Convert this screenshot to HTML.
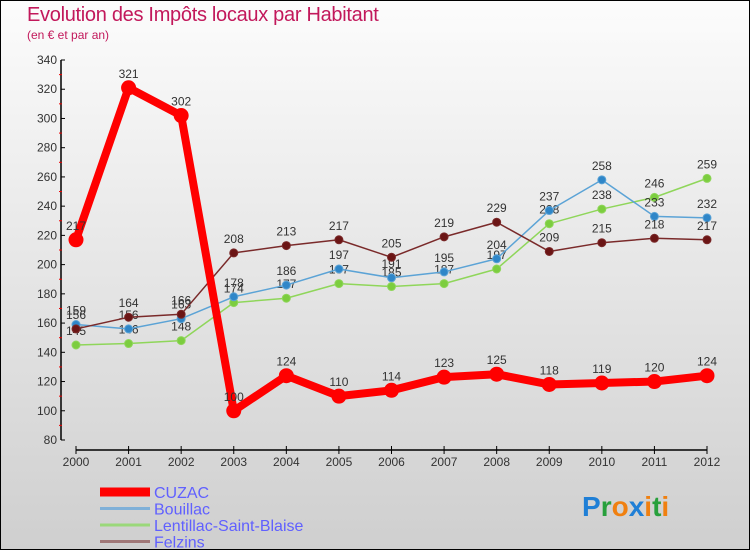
<!DOCTYPE html>
<html><head><meta charset="utf-8"><style>
html,body{margin:0;padding:0}
body{width:750px;height:550px;overflow:hidden;font-family:"Liberation Sans",sans-serif}
#wrap{position:absolute;left:0;top:0;width:748px;height:548px;border:1px solid #000;background:linear-gradient(#fcfcfc,#cfcfcf)}
.t{position:absolute;color:#c2185b}
</style></head><body>
<div id="wrap">
<div class="t" style="left:26px;top:3px;font-size:20px;letter-spacing:-0.3px">Evolution des Impôts locaux par Habitant</div>
<div class="t" style="left:26px;top:27px;font-size:12px">(en € et par an)</div>
<svg id="c" width="750" height="550" style="position:absolute;left:-1px;top:-1px"></svg>
</div>
<script>
const years=["2000","2001","2002","2003","2004","2005","2006","2007","2008","2009","2010","2011","2012"];
const cuzac=[217,321,302,100,124,110,114,123,125,118,119,120,124];
const bouillac=[159,156,163,178,186,197,191,195,204,237,258,233,232];
const lentillac=[145,146,148,174,177,187,185,187,197,228,238,246,259];
const felzins=[156,164,166,208,213,217,205,219,229,209,215,218,217];
const yTicks=[80,100,120,140,160,180,200,220,240,260,280,300,320,340];
const seriesNames=["CUZAC","Bouillac","Lentillac-Saint-Blaise","Felzins"];
const NS="http://www.w3.org/2000/svg";
const svg=document.getElementById('c');
function x(i){return 76+i*(707-76)/12;}
function y(v){return 440-(v-80)*380/260;}
function el(t,a){const e=document.createElementNS(NS,t);for(const k in a)e.setAttribute(k,a[k]);svg.appendChild(e);return e;}
// axes
let ax=el('line',{x1:61,y1:60,x2:61,y2:440,stroke:'#000','stroke-width':1.5});


yTicks.forEach((v,i)=>{
 el('line',{x1:61,y1:y(v),x2:65,y2:y(v),stroke:'#000'});
 if(i<yTicks.length-1)el('line',{x1:59,y1:y(v+10),x2:62,y2:y(v+10),stroke:'#e00'});
 const t=el('text',{x:57,y:y(v)+4,'text-anchor':'end','font-size':12,fill:'#333'});t.textContent=v;
 
 
});
let xa=el('line',{x1:76,y1:450,x2:707,y2:450,stroke:'#000','stroke-width':1.5});


years.forEach((yr,i)=>{
 el('line',{x1:x(i),y1:446,x2:x(i),y2:454,stroke:'#000'});
 const t=el('text',{x:x(i),y:466,'text-anchor':'middle','font-size':12,fill:'#333'});t.textContent=yr;
 
 
});
function series(data,color,w,r,name,fill){
 const g=el('g',{});
 
 
 const p=el('polyline',{points:data.map((v,i)=>x(i)+','+y(v)).join(' '),fill:'none',stroke:color,'stroke-width':w,'stroke-linejoin':'round'});
 g.appendChild(p);
 data.forEach((v,i)=>{
  const c=el('circle',{cx:x(i),cy:y(v),r:r,fill:fill,stroke:color,'stroke-width':1});
  
  
  g.appendChild(c);
  const t=el('text',{x:x(i),y:y(v)-10,'text-anchor':'middle','font-size':12,fill:'#333'});t.textContent=v;
  
  
  g.appendChild(t);
 });
}
series(lentillac,'#8fd65a',1.5,4,'lentillac','#7ccd3f');
series(bouillac,'#5ba3d6',1.5,4,'bouillac','#2f86c8');
series(felzins,'#7a2a2a',1.5,4,'felzins','#6b1515');
series(cuzac,'#f00',8,7,'cuzac','#f00');
// legend
const lc=['#f00','#7fb0d8','#9ad87a','#a07878'];const lw=[9,3,3,3];
seriesNames.forEach((n,i)=>{
 const ly=492+i*16.5;
 const l=el('line',{x1:100,y1:ly,x2:150,y2:ly,stroke:lc[i],'stroke-width':lw[i]});
 
 
 const t=el('text',{x:154,y:ly+6,'font-size':16,fill:'#6060ff'});t.textContent=n;
 
 
});
const logo=el('text',{x:582,y:516,'font-size':28,'font-weight':'bold'});


[['P','#1f7fd6'],['r','#28a03c'],['o','#f08010'],['x','#1f7fd6'],['i','#f08010'],['t','#28a03c'],['i','#f08010']].forEach(([c,f])=>{const s=document.createElementNS(NS,'tspan');s.setAttribute('fill',f);s.textContent=c;logo.appendChild(s);});
</script>
</body></html>
